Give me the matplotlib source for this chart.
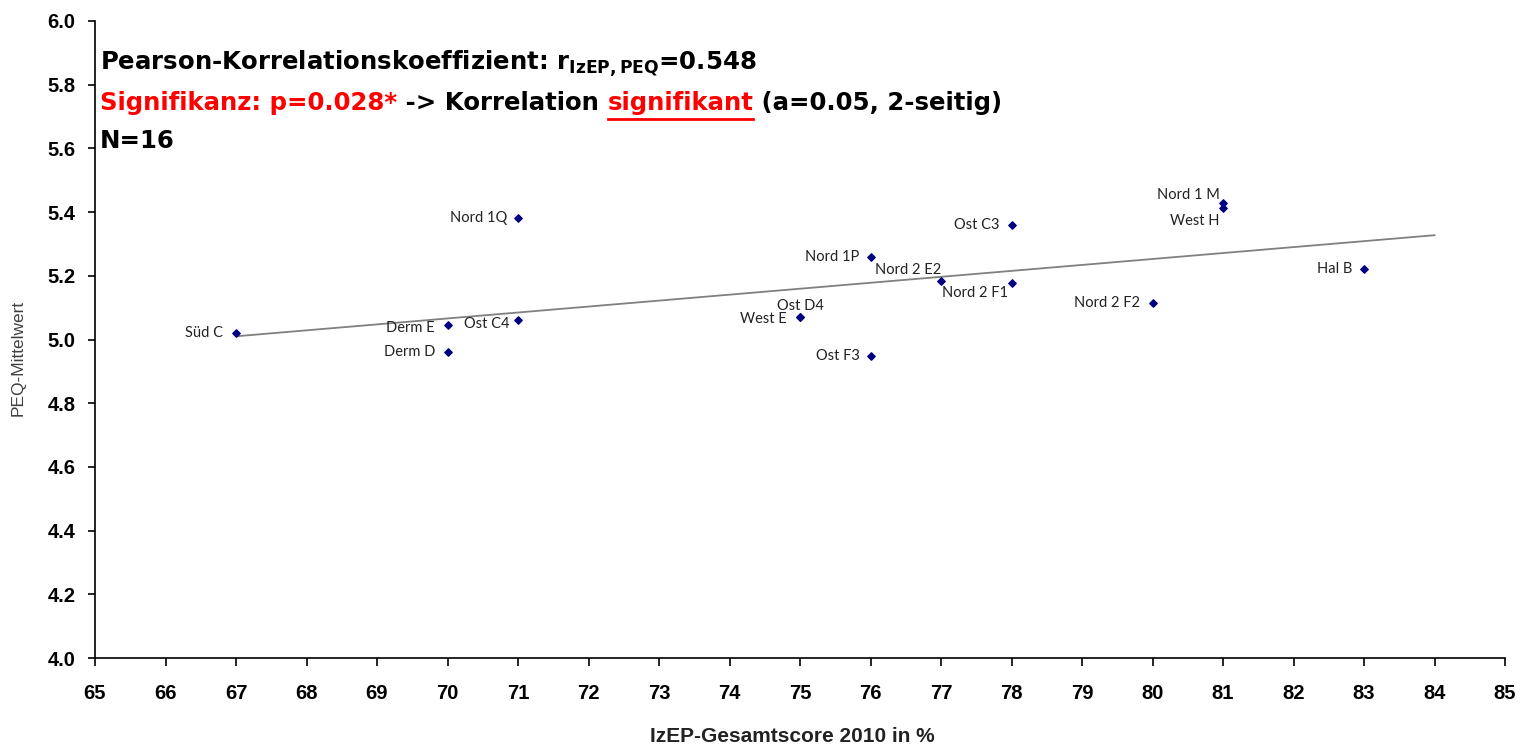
import numpy as np
import matplotlib
matplotlib.use('Agg')
import matplotlib.pyplot as plt
from matplotlib.lines import Line2D

# Data
names = ['Süd C', 'Derm E', 'Derm D', 'Ost C4', 'Nord 1Q', 'Nord 1P', 'West E', 'Ost D4',
         'Ost F3', 'Nord 2 E2', 'Nord 2 F1', 'Ost C3', 'Nord 2 F2', 'Nord 1 M', 'West H', 'Hal B']
izep = [67, 70, 70, 71, 71, 76, 75, 75, 76, 77, 78, 78, 80, 81, 81, 83]
peq = [5.02, 5.047, 4.96, 5.06, 5.382, 5.26, 5.072, 5.072, 4.947, 5.185, 5.176, 5.36,
       5.116, 5.43, 5.412, 5.22]
x_ticks = list(range(65, 86))
y_ticks = [4.0, 4.2, 4.4, 4.6, 4.8, 5.0, 5.2, 5.4, 5.6, 5.8, 6.0]

# label placement (pixel offset, horizontal alignment)
label_pos = {
    'Süd C': (-13, 0, 'right'), 'Derm E': (-13, -3, 'right'), 'Derm D': (-12, 0, 'right'),
    'Ost C4': (-9, -4, 'right'), 'Nord 1Q': (-11, 0, 'right'), 'Nord 1P': (-11, 0, 'right'),
    'West E': (-13, -2, 'right'), 'Ost D4': (0, 11, 'center'), 'Ost F3': (-11, 0, 'right'),
    'Nord 2 E2': (0, 11, 'right'), 'Nord 2 F1': (-3, -10, 'right'), 'Ost C3': (-12, 0, 'right'),
    'Nord 2 F2': (-13, 0, 'right'), 'Nord 1 M': (-3, 8, 'right'), 'West H': (-3, -13, 'right'),
    'Hal B': (-12, 0, 'right'),
}

plt.rcParams['font.family'] = ['Liberation Sans', 'DejaVu Sans']
plt.rcParams['mathtext.fontset'] = 'custom'
plt.rcParams['mathtext.rm'] = 'DejaVu Sans:bold'
plt.rcParams['mathtext.bf'] = 'DejaVu Sans:bold'

W, H = 1523, 746
fig = plt.figure(figsize=(W / 100, H / 100), dpi=100)
ax = fig.add_axes([95 / W, 88 / H, 1410 / W, 637 / H])

ax.scatter(izep, peq, marker='D', s=14, color='#00007f', zorder=3)

# linear trend line, forecast one unit forward
k, d = np.polyfit(izep, peq, 1)
xt = np.array([min(izep), max(izep) + 1])
ax.plot(xt, k * xt + d, color='#808080', lw=1.3, zorder=2)

for n, xv, yv in zip(names, izep, peq):
    dx, dy, ha = label_pos[n]
    ax.annotate(n, (xv, yv), xytext=(dx, dy), textcoords='offset pixels', ha=ha, va='center',
                fontsize=10.5, family='Lato', color='#222222')

ax.set_xlim(65, 85)
ax.set_ylim(4.0, 6.0)
ax.set_xticks(x_ticks)
ax.set_yticks(y_ticks)
ax.set_yticklabels(['%.1f' % v for v in y_ticks])
ax.tick_params(axis='x', direction='out', length=6, width=1.2, pad=13, labelsize=14.5)
ax.tick_params(axis='y', direction='out', length=5, width=1.2, pad=9, labelsize=14.5)
for lbl in ax.get_xticklabels() + ax.get_yticklabels():
    lbl.set_fontweight('bold')
for s in ['top', 'right']:
    ax.spines[s].set_visible(False)
for s in ['left', 'bottom']:
    ax.spines[s].set_linewidth(1.2)

fig.text(18 / W, 1 - 358 / H, 'PEQ-Mittelwert', rotation=90, ha='center', va='center',
         fontsize=12.5, color='#404040')
fig.text(792 / W, 1 - 737 / H, 'IzEP-Gesamtscore 2010 in %', ha='center', va='center',
         fontsize=15, fontweight='bold', color='#222222')

# statistics text block (baselines in pixels from the top)
fs = 17.6
tf = dict(fontsize=fs, fontweight='bold', family='DejaVu Sans', va='baseline')
x0 = 100 / W
fig.text(x0, 1 - 70 / H, r'Pearson-Korrelationskoeffizient: r$_{\mathrm{IzEP,PEQ}}$=0.548', **tf)
t1 = fig.text(x0, 1 - 110 / H, 'Signifikanz: p=0.028*', color='red', **tf)
t2 = fig.text(0, 0, ' -> Korrelation ', **tf)
t3 = fig.text(0, 0, 'signifikant', color='red', **tf)
t4 = fig.text(0, 0, ' (a=0.05, 2-seitig)', **tf)
fig.text(x0, 1 - 148 / H, 'N=16', **tf)

# chain the second line pieces one after another
fig.canvas.draw()
r = fig.canvas.get_renderer()
prev = t1
for t in (t2, t3, t4):
    bb = prev.get_window_extent(r)
    t.set_position((bb.x1 / W, 1 - 110 / H))
    fig.canvas.draw()
    prev = t

# underline "signifikant"
bb = t3.get_window_extent(r)
yu = (H - 119)
fig.add_artist(Line2D([bb.x0, bb.x1], [yu, yu], transform=None, color='red', lw=2))

fig.savefig('out.png', dpi=100)
